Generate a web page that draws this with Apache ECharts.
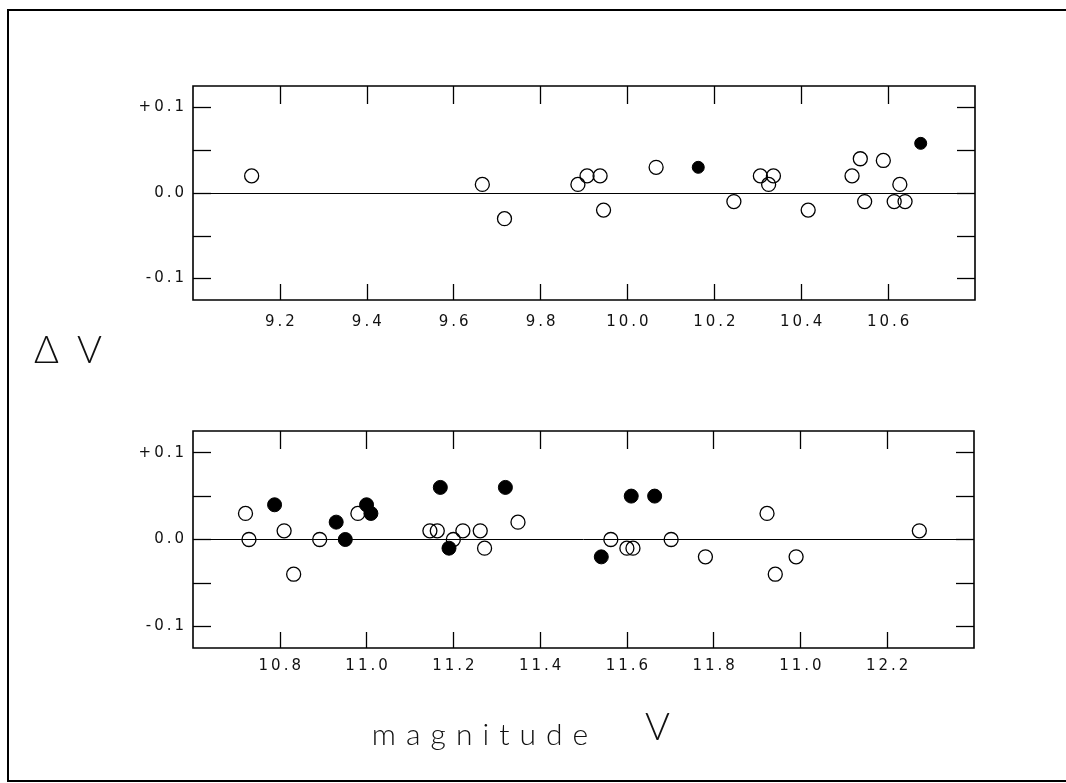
<!DOCTYPE html>
<html>
<head>
<meta charset="utf-8">
<title>Delta V vs magnitude V</title>
<script src="https://cdn.jsdelivr.net/npm/echarts@6/dist/echarts.min.js"></script>
<style>
  html, body { margin: 0; padding: 0; background: #fff; }
  #chart { width: 1066px; height: 783px; }
</style>
</head>
<body>
<div id="chart"></div>
<script>
// upper panel (V 9.0 - 10.8)
var topOpenV = [9.135, 9.666, 9.717, 9.886, 9.907, 9.937, 9.945, 10.066, 10.245, 10.306, 10.325,
  10.336, 10.416, 10.517, 10.536, 10.546, 10.589, 10.614, 10.627, 10.639]
var topOpenDV = [0.02, 0.01, -0.03, 0.01, 0.02, 0.02, -0.02, 0.03, -0.01, 0.02, 0.01,
  0.02, -0.02, 0.02, 0.04, -0.01, 0.038, -0.01, 0.01, -0.01]
var topFilledV = [10.163, 10.675]
var topFilledDV = [0.03, 0.058]

// lower panel (V 10.6 - 12.4)
var bottomOpenV = [10.721, 10.729, 10.81, 10.832, 10.892, 10.98, 11.146, 11.163, 11.2, 11.222, 11.262,
  11.272, 11.349, 11.563, 11.6, 11.614, 11.702, 11.781, 11.923, 11.942, 11.99, 12.274]
var bottomOpenDV = [0.03, 0, 0.01, -0.04, 0, 0.03, 0.01, 0.01, 0, 0.01, 0.01,
  -0.01, 0.02, 0, -0.01, -0.01, 0, -0.02, 0.03, -0.04, -0.02, 0.01]
var bottomFilledV = [10.788, 10.93, 10.951, 11.0, 11.01, 11.17, 11.19, 11.32, 11.541, 11.61, 11.664]
var bottomFilledDV = [0.04, 0.02, 0, 0.04, 0.03, 0.06, -0.01, 0.06, -0.02, 0.05, 0.05]

// ticks and labels
var topXTicks = [9.2, 9.4, 9.6, 9.8, 10.0, 10.2, 10.4, 10.6]
var topXLabels = ['9.2', '9.4', '9.6', '9.8', '10.0', '10.2', '10.4', '10.6']
var bottomXTicks = [10.8, 11.0, 11.2, 11.4, 11.6, 11.8, 12.0, 12.2]
var bottomXLabels = ['10.8', '11.0', '11.2', '11.4', '11.6', '11.8', '11.0', '12.2']
var yTicks = [-0.1, -0.05, 0, 0.05, 0.1]
var yLabelValues = [-0.1, 0, 0.1]
var yLabels = ['-0.1', '0.0', '+0.1']

var chart = echarts.init(document.getElementById('chart'))

function spaced(s) {
  return s.split('').join('\u2009')
}
function labelFor(ticks, labels) {
  return function(v) {
    for (var i = 0; i < ticks.length; i++) {
      if (Math.abs(ticks[i] - v) < 1e-6) return spaced(labels[i])
    }
    return ''
  }
}
function pairs(xs, ys) {
  return xs.map(function(x, i) { return [x, ys[i]] })
}

var labelFont = { color: '#111', fontFamily: 'DejaVu Sans', fontSize: 15 }
var tickLine = { color: '#000', width: 1.3 }

function xAxisFor(grid, min, max, ticks, labels, margin) {
  return [{
    type: 'value', gridIndex: grid, position: 'bottom', min: min, max: max,
    axisLine: { show: false, onZero: false },
    axisTick: { show: true, inside: true, length: 16, customValues: ticks, lineStyle: tickLine },
    axisLabel: Object.assign({ show: true, margin: margin, customValues: ticks, formatter: labelFor(ticks, labels) }, labelFont),
    splitLine: { show: false }
  }, {
    type: 'value', gridIndex: grid, position: 'top', min: min, max: max,
    axisLine: { show: false, onZero: false },
    axisTick: { show: true, inside: true, length: 18, customValues: ticks, lineStyle: tickLine },
    axisLabel: { show: false },
    splitLine: { show: false }
  }]
}
function yAxisFor(grid) {
  return [{
    type: 'value', gridIndex: grid, position: 'left', min: -0.125, max: 0.125,
    axisLine: { show: false, onZero: false },
    axisTick: { show: true, inside: true, length: 18, customValues: yTicks, lineStyle: tickLine },
    axisLabel: Object.assign({ show: true, margin: 9, customValues: yLabelValues, formatter: labelFor(yLabelValues, yLabels) }, labelFont),
    splitLine: { show: false }
  }, {
    type: 'value', gridIndex: grid, position: 'right', min: -0.125, max: 0.125,
    axisLine: { show: false, onZero: false },
    axisTick: { show: true, inside: true, length: 18, customValues: yTicks, lineStyle: tickLine },
    axisLabel: { show: false },
    splitLine: { show: false }
  }]
}

function openSeries(x, y, data) {
  return {
    type: 'scatter', xAxisIndex: x, yAxisIndex: y, data: data,
    symbol: 'circle', symbolSize: 14, silent: true,
    itemStyle: { color: 'rgba(0,0,0,0)', borderColor: '#000', borderWidth: 1.3, opacity: 1 },
    markLine: {
      silent: true, symbol: 'none', label: { show: false },
      lineStyle: { color: '#000', width: 1, type: 'solid' },
      data: [{ yAxis: 0 }]
    }
  }
}
function filledSeries(x, y, data, size) {
  return {
    type: 'scatter', xAxisIndex: x, yAxisIndex: y, data: data,
    symbol: 'circle', symbolSize: size, silent: true,
    itemStyle: { color: '#000', borderColor: '#000', borderWidth: 1, opacity: 1 }
  }
}

var bigText = { fill: '#111', fontFamily: 'Lato', fontWeight: 300, fontSize: 38 }

chart.setOption({
  animation: false,
  backgroundColor: '#fff',
  grid: [
    { left: 193, top: 86, width: 782, height: 214, show: true, borderColor: '#000', borderWidth: 1.6, backgroundColor: 'transparent' },
    { left: 193, top: 431, width: 781, height: 217, show: true, borderColor: '#000', borderWidth: 1.6, backgroundColor: 'transparent' }
  ],
  xAxis: xAxisFor(0, 9.0, 10.8, topXTicks, topXLabels, 15).concat(xAxisFor(1, 10.6, 12.4, bottomXTicks, bottomXLabels, 11)),
  yAxis: yAxisFor(0).concat(yAxisFor(1)),
  series: [
    openSeries(0, 0, pairs(topOpenV, topOpenDV)),
    filledSeries(0, 0, pairs(topFilledV, topFilledDV), 12),
    openSeries(2, 2, pairs(bottomOpenV, bottomOpenDV)),
    filledSeries(2, 2, pairs(bottomFilledV, bottomFilledDV), 14)
  ],
  graphic: [
    { type: 'rect', silent: true, shape: { x: 8, y: 10, width: 1100, height: 771 },
      style: { fill: 'none', stroke: '#000', lineWidth: 2 } },
    { type: 'text', x: 34, y: 370, silent: true,
      style: Object.assign({ text: '\u0394', textVerticalAlign: 'bottom' }, bigText) },
    { type: 'text', x: 77, y: 370, silent: true,
      style: Object.assign({ text: 'V', textVerticalAlign: 'bottom' }, bigText) },
    { type: 'text', x: 480, y: 750, silent: true,
      style: { text: 'magnitude'.split('').join(' \u200A'), textAlign: 'center', textVerticalAlign: 'bottom',
        fill: '#111', fontFamily: 'Lato', fontWeight: 300, fontSize: 30 } },
    { type: 'text', x: 645, y: 747, silent: true,
      style: Object.assign({ text: 'V', textVerticalAlign: 'bottom' }, bigText) }
  ]
})
</script>
</body>
</html>
